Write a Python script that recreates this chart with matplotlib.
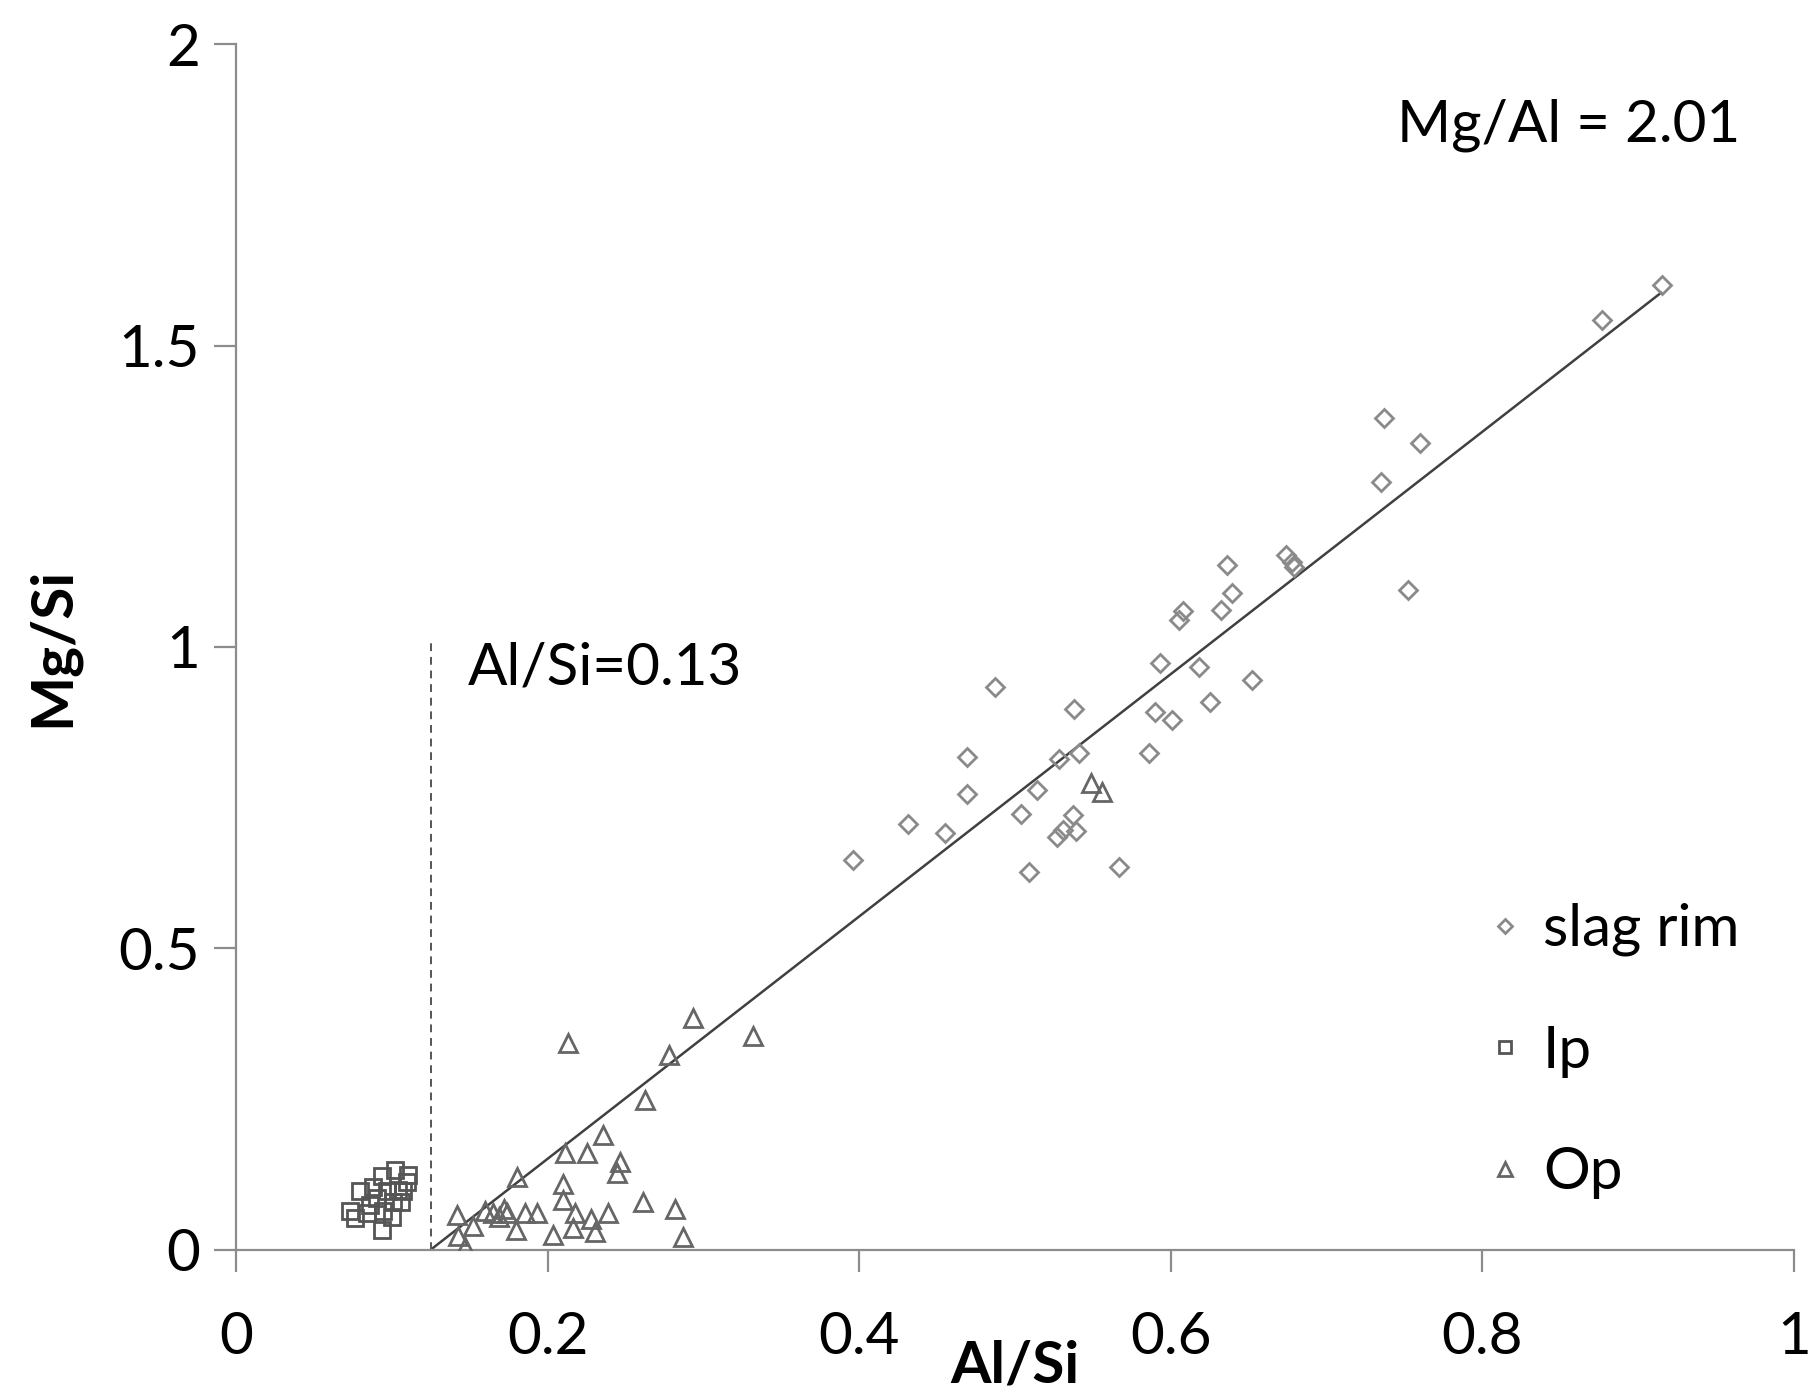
import matplotlib
matplotlib.use("Agg")
import matplotlib.pyplot as plt
import numpy as np

plt.rcParams['font.family'] = ['Lato', 'DejaVu Sans']

# slag rim (diamonds)
rim_x = [0.915, 0.877, 0.737, 0.760, 0.735, 0.752,
         0.636, 0.674, 0.678, 0.679, 0.639, 0.608, 0.605, 0.632,
         0.593, 0.618, 0.652, 0.590, 0.601, 0.625, 0.586,
         0.487, 0.538, 0.469, 0.541, 0.528, 0.469, 0.514, 0.504, 0.431,
         0.455, 0.537, 0.527, 0.531, 0.539, 0.396, 0.509, 0.567]
rim_y = [1.600, 1.542, 1.380, 1.339, 1.273, 1.095,
         1.136, 1.153, 1.141, 1.133, 1.090, 1.059, 1.045, 1.061,
         0.974, 0.966, 0.945, 0.893, 0.879, 0.908, 0.825,
         0.934, 0.897, 0.817, 0.824, 0.815, 0.756, 0.763, 0.723, 0.706,
         0.692, 0.721, 0.685, 0.697, 0.695, 0.647, 0.627, 0.635]

# Ip (squares)
ip_x = [0.0764, 0.0935, 0.102, 0.0796, 0.0935, 0.0999, 0.106, 0.1095, 0.0860,
        0.0945, 0.0881, 0.0967, 0.104, 0.0732, 0.0903, 0.101, 0.1074, 0.0839, 0.1106]
ip_y = [0.0527, 0.122, 0.133, 0.097, 0.033, 0.055, 0.080, 0.113, 0.075,
        0.064, 0.105, 0.097, 0.0995, 0.064, 0.086, 0.080, 0.097, 0.061, 0.124]

# Op (triangles)
op_x = [0.2935, 0.2129, 0.278, 0.2625, 0.2354, 0.2112, 0.2255, 0.2465, 0.2447,
        0.1805, 0.2097, 0.2097, 0.261, 0.2815, 0.142, 0.152, 0.1427, 0.147,
        0.160, 0.165, 0.172, 0.174, 0.169, 0.1855, 0.193, 0.1797, 0.2033,
        0.2176, 0.216, 0.2277, 0.2304, 0.2386, 0.2867, 0.3316, 0.549, 0.556]
op_y = [0.384, 0.344, 0.324, 0.249, 0.191, 0.160, 0.1615, 0.1466, 0.127,
        0.1217, 0.109, 0.083, 0.080, 0.0677, 0.058, 0.039, 0.0234, 0.0056,
        0.064, 0.061, 0.0675, 0.061, 0.054, 0.062, 0.062, 0.033, 0.025,
        0.062, 0.036, 0.051, 0.0305, 0.062, 0.022, 0.355, 0.774, 0.759]

# regression line and threshold
fit_slope = 2.01
fit_x = [0.1248, 0.9146]
threshold = 0.125
threshold_top = 1.01

FS = 42

fig = plt.figure(figsize=(18.15, 13.98), dpi=100)
ax = fig.add_axes([0.130, 0.1059, 0.8585, 0.8626])

fx = np.array(fit_x)
ax.plot(fx, fit_slope * (fx - fit_x[0]), color='#404040', lw=1.8, zorder=2)
ax.plot([threshold, threshold], [0, threshold_top], color='#555555', lw=1.4,
        ls=(0, (4, 3)), zorder=2)

mk = dict(linestyle='none', markerfacecolor='none', zorder=3)
ax.plot(rim_x, rim_y, marker='D', markersize=9, markeredgecolor='#8a8a8a',
        markeredgewidth=2.0, label='slag rim', **mk)
ax.plot(ip_x, ip_y, marker='s', markersize=11, markeredgecolor='#555555',
        markeredgewidth=2.0, label='Ip', **mk)
ax.plot(op_x, op_y, marker='^', markersize=13, markeredgecolor='#666666',
        markeredgewidth=2.0, label='Op', **mk)

ax.set_xlim(0, 1)
ax.set_ylim(0, 2)
ax.set_xticks([0, 0.2, 0.4, 0.6, 0.8, 1])
ax.set_xticklabels(['0', '0.2', '0.4', '0.6', '0.8', '1'])
ax.set_yticks([0, 0.5, 1, 1.5, 2])
ax.set_yticklabels(['0', '0.5', '1', '1.5', '2'])

for s in ['top', 'right']:
    ax.spines[s].set_visible(False)
for s in ['left', 'bottom']:
    ax.spines[s].set_color('#8c8c8c')
    ax.spines[s].set_linewidth(1.6)

ax.tick_params(axis='both', colors='#8c8c8c', width=1.6, length=16,
               labelsize=FS, labelcolor='black', direction='out')
ax.tick_params(axis='x', pad=28)
ax.tick_params(axis='y', pad=10)

ax.set_ylabel('Mg/Si', fontsize=FS, fontweight='bold', labelpad=28)
ax.text(0.5, -0.110, 'Al/Si', transform=ax.transAxes, fontsize=FS,
        fontweight='bold', ha='center', va='baseline')

ax.text(0.149, 0.965, 'Al/Si=0.13', fontsize=FS, ha='left', va='center')
ax.text(0.745, 1.866, 'Mg/Al = 2.01', fontsize=FS, ha='left', va='center')

ax.legend(loc='center left', bbox_to_anchor=(0.762, 0.165), frameon=False,
          fontsize=FS, labelspacing=1.17, handletextpad=0.15, handlelength=1.0,
          markerscale=0.75)

fig.savefig('out.png', dpi=100)
